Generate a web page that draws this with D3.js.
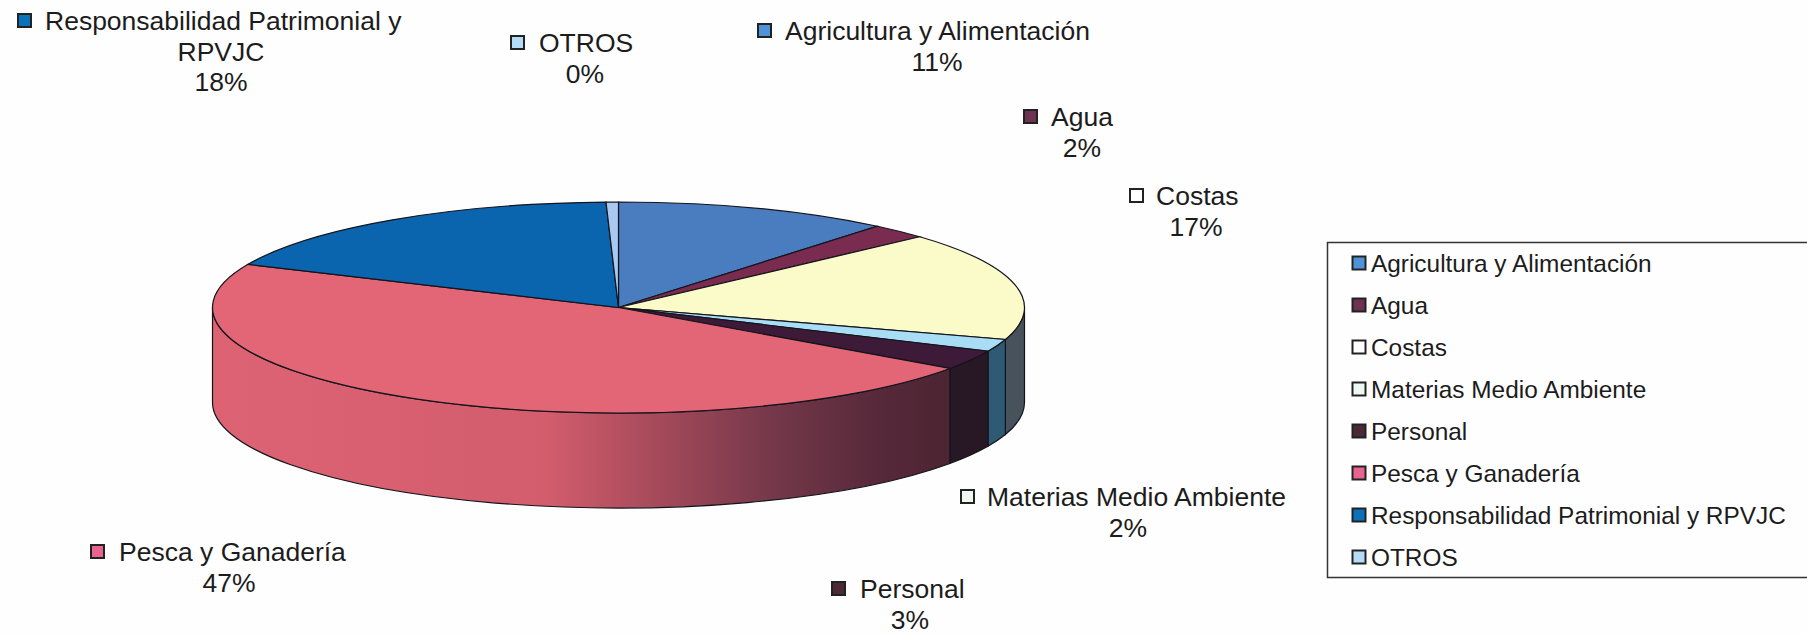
<!DOCTYPE html>
<html><head><meta charset="utf-8">
<script src="https://cdn.jsdelivr.net/npm/d3@7"></script>
<style>html,body{margin:0;padding:0;background:#fefefe}svg{display:block}text{font-family:"Liberation Sans",Arial,sans-serif;fill:#1c1c1c}</style>
</head><body><svg id="c" width="1807" height="634"></svg>
<script>
const categories=["Agricultura y Alimentación","Agua","Costas","Materias Medio Ambiente","Personal","Pesca y Ganadería","Responsabilidad Patrimonial y RPVJC","OTROS"];
const values=[11,2.3,16.6,1.9,3,46.9,17.8,0.49];
const topColors=["#4a7dc0","#7a2b50","#fbfac9","#a9dcf5","#3d1a38","#e36676","#0a65ae","#a9c9f0"];
const wallColors=["#33557f","#4d1c35","#47525c","#2e5a74","#281724","url(#pescaWall)","#06457a","#708aa8"];
const markerColors=["#4f93d6","#6d3350","#ffffff","#eef7f2","#4b2a36","#e8638f","#0b71b8","#b4dcf6"];
const labelLines=[["Agricultura y Alimentación"],["Agua"],["Costas"],["Materias Medio Ambiente"],["Personal"],["Pesca y Ganadería"],["Responsabilidad Patrimonial y"],["OTROS"]];
const labelSecond=[[],[],[],[],[],[],["RPVJC"],[]];
// label layout: left of marker, top-line centre y, text start x, centre x of lower lines
const labelLayout=[[757,31,785,937],[1023,117,1051,1082],[1129,196,1156,1196],[960,497,987,1128],[831,589,860,910],[90,552,119,229],[17,21,45,221],[510,43,539,585]];

const svg=d3.select("#c");
const cx=618.5,cy=307.5,rx=406,ry=105.5,depth=95;
const defs=svg.append("defs");
const g=defs.append("linearGradient").attr("id","pescaWall").attr("gradientUnits","userSpaceOnUse").attr("x1",-406).attr("x2",332).attr("y1",0).attr("y2",0);
[[0,"#dd6373"],[0.45,"#d35d6d"],[0.62,"#a04858"],[0.76,"#74384a"],[0.9,"#57293a"],[1,"#4c2432"]].forEach(s=>g.append("stop").attr("offset",s[0]).attr("stop-color",s[1]));

const pie=d3.pie().sort(null).value(d=>d)(values);
const pieG=svg.append("g").attr("transform",`translate(${cx},${cy}) scale(1,${ry/rx})`);
const dy=depth*rx/ry;
const HALF=Math.PI/2;
pie.forEach((p,i)=>{
  const a0=Math.max(p.startAngle,Math.PI/2),a1=Math.min(p.endAngle,Math.PI*1.5);
  if(a1<=a0)return;
  const w=d3.path();
  w.arc(0,0,rx,a0-HALF,a1-HALF);
  w.lineTo(rx*Math.sin(a1),-rx*Math.cos(a1)+dy);
  w.arc(0,dy,rx,a1-HALF,a0-HALF,true);
  w.closePath();
  pieG.append("path").attr("d",w.toString()).attr("fill",wallColors[i]).attr("stroke","#14141c").attr("stroke-width",1.2).attr("vector-effect","non-scaling-stroke");
});
const arc=d3.arc().innerRadius(0).outerRadius(rx);
pieG.selectAll("path.top").data(pie).join("path").attr("class","top").attr("d",arc)
  .attr("fill",(d,i)=>topColors[i]).attr("stroke","#14141c").attr("stroke-width",1.2).attr("vector-effect","non-scaling-stroke");

const fs=26.5,lh=30.5;
labelLayout.forEach((l,i)=>{
  const [mx,y,tx,c]=l;
  svg.append("rect").attr("x",mx+1).attr("y",y-7).attr("width",13).attr("height",13).attr("fill",markerColors[i]).attr("stroke","#222").attr("stroke-width",2);
  svg.append("text").attr("x",tx).attr("y",y+9).attr("font-size",fs).text(labelLines[i][0]);
  let yy=y+9;
  labelSecond[i].forEach(t=>{yy+=lh;svg.append("text").attr("x",c).attr("y",yy).attr("text-anchor","middle").attr("font-size",fs).text(t);});
  yy+=lh;
  svg.append("text").attr("x",c).attr("y",yy).attr("text-anchor","middle").attr("font-size",fs).text(d3.format(".0f")(values[i])+"%");
});

svg.append("rect").attr("x",1327.5).attr("y",242.5).attr("width",500).attr("height",335).attr("fill","none").attr("stroke","#333").attr("stroke-width",1.5);
const rowY=d3.scalePoint().domain(categories).range([263,557]);
categories.forEach((c,i)=>{
  const y=rowY(c);
  svg.append("rect").attr("x",1352.5).attr("y",y-6.5).attr("width",13).attr("height",13).attr("fill",markerColors[i]).attr("stroke","#222").attr("stroke-width",2);
  svg.append("text").attr("x",1371).attr("y",y+8.5).attr("font-size",24.4).text(c);
});
</script></body></html>
